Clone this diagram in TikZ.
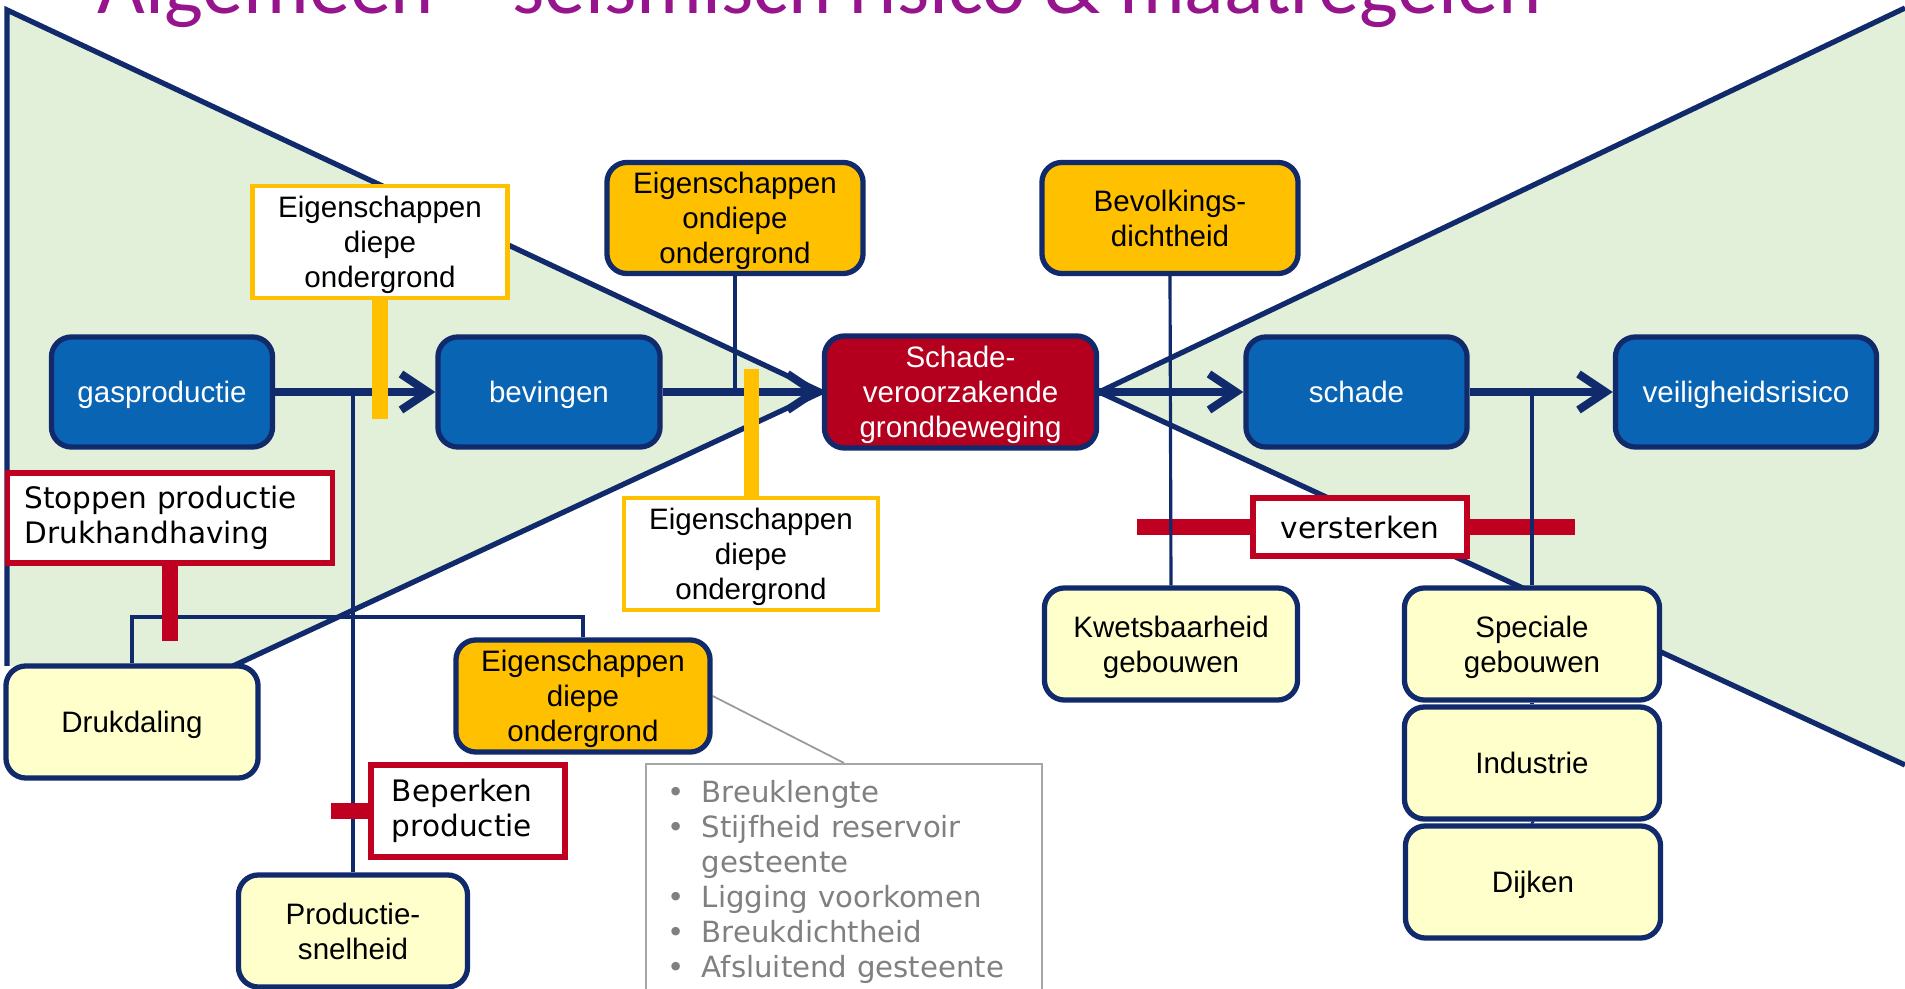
\documentclass[tikz,border=0pt]{standalone}
\usepackage{fontspec}
\setmainfont{Liberation Sans}
\newfontfamily\verdana{DejaVu Sans}
\newfontfamily\titlefont{Carlito}
\usepackage{tikz}
\usetikzlibrary{arrows.meta,positioning,backgrounds,calc}
\usepackage{xcolor}
\definecolor{navyline}{HTML}{112A6C}
\definecolor{flowblue}{HTML}{0A64B4}
\definecolor{quakered}{HTML}{B4001E}
\definecolor{measurered}{HTML}{C00020}
\definecolor{factorgold}{HTML}{FFC000}
\definecolor{creamfill}{HTML}{FFFFCC}
\definecolor{fieldgreen}{HTML}{E2F0D9}
\definecolor{titlepurple}{HTML}{96148C}
\definecolor{listgrey}{HTML}{808080}
\newcommand{\punt}{\makebox[0.34cm][l]{\textbullet}}

\begin{document}
\begin{tikzpicture}[
  x=0.01cm, y=-0.01cm,
  font=\fontsize{8.4}{10}\selectfont,
  >={Straight Barb[length=0.27cm,width=0.36cm]},
  flowbox/.style={
    draw=navyline,
    fill=flowblue,
    rounded corners=0.2cm,
    line width=1.5pt,
    inner sep=2pt,
    align=center,
    text depth=0pt,
    minimum height=1.1cm,
    text=white
  },
  quakebox/.style={flowbox, fill=quakered},
  factorbox/.style={flowbox, fill=factorgold, text=black, minimum width=2.56cm, minimum height=1.11cm},
  objectbox/.style={flowbox, fill=creamfill, text=black, minimum width=2.54cm, minimum height=1.12cm},
  propbox/.style={
    draw=factorgold,
    fill=white,
    line width=1.2pt,
    inner sep=2pt,
    align=center,
    text depth=0pt,
    minimum width=2.55cm,
    minimum height=1.12cm
  },
  measurebox/.style={
    draw=measurered,
    fill=white,
    line width=1.5pt,
    inner sep=2pt,
    font=\verdana\fontsize{8.4}{10}\selectfont
  },
  listbox/.style={
    draw=listgrey!70,
    line width=0.5pt,
    text=listgrey,
    align=left,
    text width=3.52cm,
    inner xsep=0.22cm,
    inner ysep=0.16cm,
    font=\verdana\fontsize{8.3}{10}\selectfont
  },
  mainarrow/.style={->, line width=2.3pt, navyline},
  connector/.style={line width=0.9pt, navyline},
  funnel/.style={line width=1.5pt, navyline},
  goldbar/.style={line width=0.15cm, factorgold},
  redbar/.style={line width=0.16cm, measurered}
]
  \useasboundingbox (0,0) rectangle (1905,989);
  \clip (0,0) rectangle (1905,989);

  % Title (cut off at the top edge)
  \node[anchor=base west, inner sep=0pt, text=titlepurple, font=\titlefont\fontsize{23.4}{28}\selectfont] (titel) at (97,14)
    {Algemeen – seismisch risico \& maatregelen};

  % --- MAIN ROW: the causal chain ---
  \node[flowbox, minimum width=2.21cm] (gas) at (162,392) {gasproductie};
  \node[flowbox, minimum width=2.22cm, right=1.60cm of gas] (bev) {bevingen};
  \node[quakebox, minimum width=2.72cm, minimum height=1.12cm, right=1.59cm of bev] (grond) {Schade-\\veroorzakende\\grondbeweging};
  \node[flowbox, minimum width=2.21cm, right=1.44cm of grond] (schade) {schade};
  \node[flowbox, minimum width=2.61cm, right=1.43cm of schade] (risico) {veiligheidsrisico};

  % --- TOP ROW: influencing factors ---
  \node[propbox] (eig1) at (380,242) {Eigenschappen\\diepe\\ondergrond};
  \node[factorbox] (ondiep) at (735,218) {Eigenschappen\\ondiepe\\ondergrond};
  \node[factorbox] (bevolk) at (1170,218) {Bevolkings-\\dichtheid};

  % --- LOWER LEFT: production side ---
  \node[measurebox, align=left, text width=2.91cm, inner xsep=0.17cm, minimum height=0.9cm] (stop) at (170,518) {Stoppen productie\\Drukhandhaving};
  \node[objectbox, minimum width=2.52cm] (druk) at (132,722) {Drukdaling};
  \node[factorbox, minimum width=2.54cm, minimum height=1.12cm] (eig3) at (583,696) {Eigenschappen\\diepe\\ondergrond};
  \node[measurebox, align=left, text width=1.52cm, inner xsep=0.21cm, minimum height=0.92cm] (beperk) at (468,811) {Beperken\\productie};
  \node[objectbox, minimum width=2.29cm] (snel) at (353,931) {Productie-\\snelheid};
  \node[propbox, minimum width=2.54cm] (eig2) at (751,554) {Eigenschappen\\diepe\\ondergrond};

  % Detail list
  \node[listbox, anchor=north] (lijst) at (844,763) {
    \punt Breuklengte\\
    \punt Stijfheid reservoir\\
    \hspace*{0.34cm}gesteente\\
    \punt Ligging voorkomen\\
    \punt Breukdichtheid\\
    \punt Afsluitend gesteente
  };

  % --- LOWER RIGHT: damage side ---
  \node[objectbox, minimum width=2.53cm] (kwets) at (1171,644) {Kwetsbaarheid\\gebouwen};
  \node[measurebox, minimum width=2.14cm, minimum height=0.58cm] (verst) at (1360,527) {versterken};
  \node[objectbox, minimum width=2.55cm] (spec) at (1532,644) {Speciale\\gebouwen};
  \node[objectbox, minimum width=2.55cm] (indu) at (1532,763) {Industrie};
  \node[objectbox, minimum width=2.55cm] (dijk) at (1533,882) {Dijken};

  % Funnel corners
  \coordinate (lt) at (7,10);
  \coordinate (lb) at (7,666);
  \coordinate (ld) at (233,666);
  \coordinate (rt) at (1905,8);
  \coordinate (rb) at (1905,765);
  \coordinate (knik) at (0,617);

  \begin{scope}[on background layer]
    \fill[white] (0,0) rectangle (1905,989);
    % green fields
    \fill[fieldgreen] (lt) -- (grond.west) -- (ld) -- (lb) -- cycle;
    \fill[fieldgreen] (grond.east) -- (rt) -- (rb) -- cycle;
    \draw[funnel] (lb) -- (lt) -- (grond.west) -- (ld);
    \draw[funnel] (rt) -- (grond.east) -- (rb);

    % measure bar behind versterken
    \draw[redbar] ([xshift=-1.13cm]verst.west) -- ([xshift=1.05cm]verst.east);

    % Thin links
    \draw[connector] (ondiep.south) -- (ondiep.south |- gas.east);
    \draw[connector] (bevolk.south) -- (kwets.north);
    \draw[connector] (snel.north) -- (snel.north |- gas.east);
    \draw[connector] (spec.north) -- (spec.north |- schade.east);
    \draw[connector] (spec.south) -- (indu.north);
    \draw[connector] (indu.south) -- (dijk.north);
    \draw[connector] (druk.north) |- (eig3.north |- knik) -- (eig3.north);
    \draw[listgrey!80, line width=0.5pt] (eig3.east) -- (lijst.north);

    % Connecting Arrows
    \draw[mainarrow] (gas) -- (bev);
    \draw[mainarrow] (bev) -- (grond);
    \draw[mainarrow] (grond) -- (schade);
    \draw[mainarrow] (schade) -- (risico);

    % Bars
    \draw[goldbar] (eig1.south) -- ++(0,119);
    \draw[goldbar] (eig2.north) -- ++(0,-127);
    \draw[redbar] (stop.south) -- ++(0,75);
    \draw[redbar] (beperk.west) -- ++(-37,0);
  \end{scope}

\end{tikzpicture}
\end{document}
